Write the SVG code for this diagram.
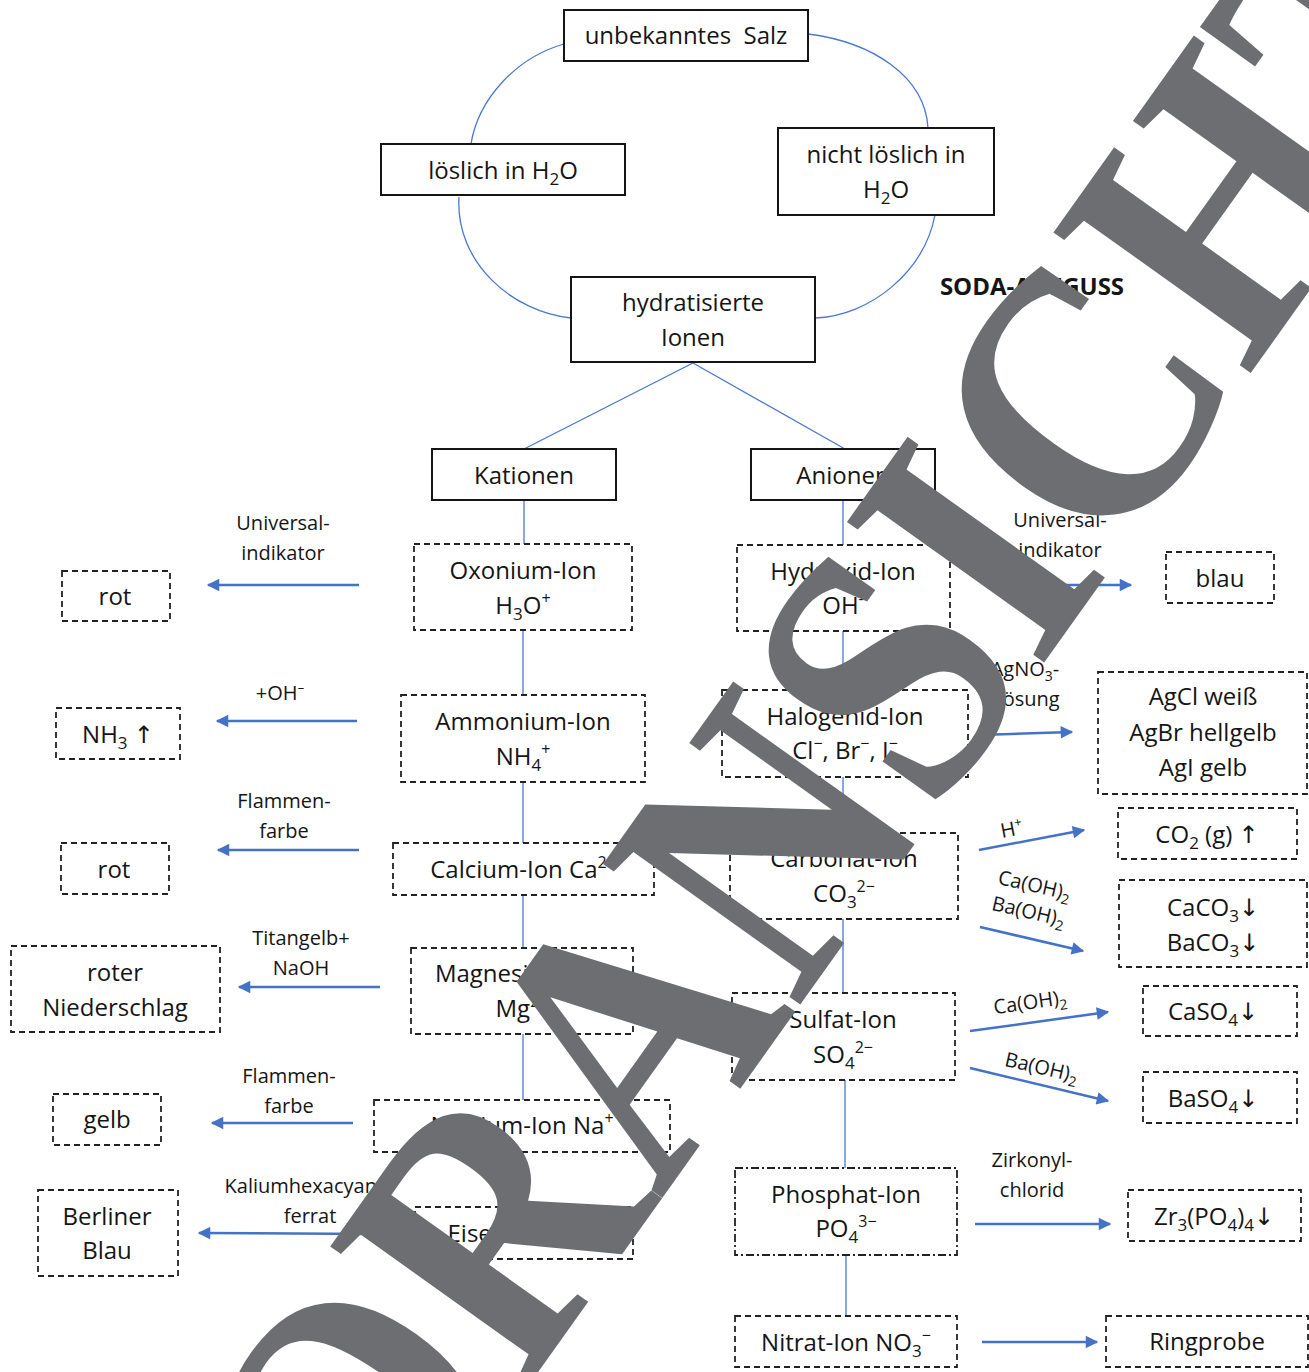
<svg xmlns="http://www.w3.org/2000/svg" width="1309" height="1372" viewBox="0 0 1309 1372">
<defs>
<marker id="ah" viewBox="0 0 10 10" refX="9" refY="5" markerWidth="6" markerHeight="5" orient="auto" markerUnits="strokeWidth"><path d="M0,0 L10,5 L0,10 z" fill="#4472c4"/></marker>
</defs>
<style>
text{font-family:"Open Sans","Noto Sans","DejaVu Sans",sans-serif;fill:#151515;text-anchor:middle}
.t{font-size:24px}
.l{font-size:20px}
.solid{fill:#fff;stroke:#151515;stroke-width:2}
.dash{fill:#fff;stroke:#222;stroke-width:1.8;stroke-dasharray:6 4}
.dashdot{fill:#fff;stroke:#222;stroke-width:1.8;stroke-dasharray:8 3 2 3}
.con{fill:none;stroke:#4a78d0;stroke-width:1.3}
.arr{fill:none;stroke:#4472c4;stroke-width:2.5;marker-end:url(#ah)}
.wm{font-family:"Liberation Serif","Times New Roman",serif;font-weight:bold;font-size:370px;fill:#6d6e71;text-anchor:start}
</style>
<rect width="1309" height="1372" fill="#fff"/>

<g id="connectors">
<path class="con" d="M564,44 C515,58 478,100 471,144"/>
<path class="con" d="M808,34 C872,42 925,76 928,128"/>
<path class="con" d="M459,197 C455,262 512,312 571,318"/>
<path class="con" d="M935,215 C924,272 870,316 815,318"/>
<path class="con" d="M693,363 L524,449 M693,363 L845,449"/>
<path class="con" d="M524,500 V544 M523,630 V695 M523,782 V843 M523,895 V948 M523,1034 V1100 M523,1152 V1207"/>
<path class="con" d="M843,500 V545 M843,631 V690 M843,777 V833 M843,919 V993 M845,1080 V1168 M846,1255 V1316"/>
<line class="arr" x1="359" y1="585" x2="208" y2="585"/>
<line class="arr" x1="357" y1="721" x2="217" y2="721"/>
<line class="arr" x1="359" y1="850" x2="218" y2="850"/>
<line class="arr" x1="380" y1="987" x2="239" y2="987"/>
<line class="arr" x1="353" y1="1123" x2="212" y2="1123"/>
<line class="arr" x1="375" y1="1234" x2="199" y2="1233"/>
<line class="arr" x1="985" y1="585" x2="1131" y2="585"/>
<line class="arr" x1="980" y1="735" x2="1072" y2="732"/>
<line class="arr" x1="979" y1="850" x2="1084" y2="830"/>
<line class="arr" x1="980" y1="927" x2="1083" y2="951"/>
<line class="arr" x1="970" y1="1031" x2="1108" y2="1012"/>
<line class="arr" x1="970" y1="1068" x2="1108" y2="1101"/>
<line class="arr" x1="975" y1="1224" x2="1110" y2="1224"/>
<line class="arr" x1="982" y1="1342" x2="1097" y2="1342"/>
<text class="l" x="283" y="530">Universal-</text><text class="l" x="283" y="560">indikator</text>
<text class="l" x="280" y="700">+OH⁻</text>
<text class="l" x="284" y="808">Flammen-</text><text class="l" x="284" y="838">farbe</text>
<text class="l" x="301" y="945">Titangelb+</text><text class="l" x="301" y="975">NaOH</text>
<text class="l" x="289" y="1083">Flammen-</text><text class="l" x="289" y="1113">farbe</text>
<text class="l" x="310" y="1193">Kaliumhexacyano-</text><text class="l" x="310" y="1223">ferrat</text>
<text class="l" x="1060" y="527">Universal-</text><text class="l" x="1060" y="557">indikator</text>
<text class="l" x="1025" y="676">AgNO<tspan dy="5" font-size="14">3</tspan><tspan dy="-5">-</tspan></text><text class="l" x="1026" y="706">Lösung</text>
<text class="l" transform="translate(1013,836) rotate(-11)">H<tspan dy="-8" font-size="13">+</tspan></text>
<text class="l" transform="translate(1033,892) rotate(13)">Ca(OH)<tspan dy="5" font-size="14">2</tspan></text>
<text class="l" transform="translate(1027,918) rotate(13)">Ba(OH)<tspan dy="5" font-size="14">2</tspan></text>
<text class="l" transform="translate(1031,1009) rotate(-8)">Ca(OH)<tspan dy="5" font-size="14">2</tspan></text>
<text class="l" transform="translate(1040,1074) rotate(13)">Ba(OH)<tspan dy="5" font-size="14">2</tspan></text>
<text class="l" x="1032" y="1167">Zirkonyl-</text><text class="l" x="1032" y="1197">chlorid</text>
</g>

<g id="n-salz"><rect class="solid" x="564" y="10" width="244" height="51"/><text class="t" x="686" y="44">unbekanntes&#160; Salz</text></g>
<g id="n-loeslich"><rect class="solid" x="381" y="144" width="244" height="51"/><text class="t" x="503" y="179">löslich in H<tspan dy="6" font-size="17">2</tspan><tspan dy="-6">O</tspan></text></g>
<g id="n-nichtloeslich"><rect class="solid" x="778" y="128" width="216" height="87"/><text class="t" x="886" y="163">nicht löslich in</text><text class="t" x="886" y="198">H<tspan dy="6" font-size="17">2</tspan><tspan dy="-6">O</tspan></text></g>
<g id="n-hydrat"><rect class="solid" x="571" y="277" width="244" height="85"/><text class="t" x="693" y="311">hydratisierte</text><text class="t" x="693" y="346">Ionen</text></g>
<g id="n-soda"><text x="1032" y="295" style="font-size:24px;font-weight:bold">SODA-AUFGUSS</text></g>
<g id="n-kationen"><rect class="solid" x="432" y="449" width="184" height="51"/><text class="t" x="524" y="484">Kationen</text></g>
<g id="n-anionen"><rect class="solid" x="751" y="449" width="184" height="51"/><text class="t" x="843" y="484">Anionen</text></g>

<g id="n-oxonium"><rect class="dash" x="414" y="544" width="218" height="86"/><text class="t" x="523" y="579">Oxonium-Ion</text><text class="t" x="523" y="614">H<tspan dy="6" font-size="17">3</tspan><tspan dy="-6">O</tspan><tspan dy="-10" font-size="16">+</tspan></text></g>
<g id="n-ammonium"><rect class="dash" x="401" y="695" width="244" height="87"/><text class="t" x="523" y="730">Ammonium-Ion</text><text class="t" x="523" y="765">NH<tspan dy="6" font-size="17">4</tspan><tspan dy="-16" font-size="16">+</tspan></text></g>
<g id="n-calcium"><rect class="dash" x="393" y="843" width="261" height="52"/><text class="t" x="523" y="878">Calcium-Ion Ca<tspan dy="-10" font-size="16">2+</tspan></text></g>
<g id="n-magnesium"><rect class="dash" x="411" y="948" width="222" height="86"/><text class="t" x="522" y="982">Magnesium-Ion</text><text class="t" x="522" y="1017">Mg<tspan dy="-10" font-size="16">2+</tspan></text></g>
<g id="n-natrium"><rect class="dash" x="374" y="1100" width="296" height="52"/><text class="t" x="522" y="1134">Natrium-Ion Na<tspan dy="-10" font-size="16">+</tspan></text></g>
<g id="n-eisen"><rect class="dash" x="415" y="1207" width="218" height="52"/><text class="t" x="524" y="1242">Eisen-Ion Fe<tspan dy="-10" font-size="16">3+</tspan></text></g>

<g id="n-rot1"><rect class="dash" x="62" y="571" width="108" height="50"/><text class="t" x="115" y="605">rot</text></g>
<g id="n-nh3"><rect class="dash" x="56" y="708" width="124" height="51"/><text class="t" x="118" y="743">NH<tspan dy="6" font-size="17">3</tspan><tspan dy="-6"> ↑</tspan></text></g>
<g id="n-rot2"><rect class="dash" x="61" y="843" width="108" height="51"/><text class="t" x="114" y="878">rot</text></g>
<g id="n-roter"><rect class="dash" x="11" y="946" width="209" height="86"/><text class="t" x="115" y="981">roter</text><text class="t" x="115" y="1016">Niederschlag</text></g>
<g id="n-gelb"><rect class="dash" x="53" y="1094" width="108" height="51"/><text class="t" x="107" y="1128">gelb</text></g>
<g id="n-berliner"><rect class="dash" x="38" y="1190" width="140" height="86"/><text class="t" x="107" y="1225">Berliner</text><text class="t" x="107" y="1259">Blau</text></g>

<g id="n-hydroxid"><rect class="dash" x="737" y="545" width="213" height="86"/><text class="t" x="843" y="580">Hydroxid-Ion</text><text class="t" x="843" y="614">OH<tspan dy="-10" font-size="16">-</tspan></text></g>
<g id="n-halogenid"><rect class="dash" x="722" y="690" width="246" height="87"/><text class="t" x="845" y="725">Halogenid-Ion</text><text class="t" x="845" y="759">Cl<tspan dy="-10" font-size="16">−</tspan><tspan dy="10">, Br</tspan><tspan dy="-10" font-size="16">−</tspan><tspan dy="10">, I</tspan><tspan dy="-10" font-size="16">−</tspan></text></g>
<g id="n-carbonat"><rect class="dash" x="730" y="833" width="228" height="86"/><text class="t" x="844" y="867">Carbonat-Ion</text><text class="t" x="844" y="902">CO<tspan dy="6" font-size="17">3</tspan><tspan dy="-16" font-size="16">2−</tspan></text></g>
<g id="n-sulfat"><rect class="dash" x="732" y="993" width="223" height="87"/><text class="t" x="843" y="1028">Sulfat-Ion</text><text class="t" x="843" y="1063">SO<tspan dy="6" font-size="17">4</tspan><tspan dy="-16" font-size="16">2−</tspan></text></g>
<g id="n-phosphat"><rect class="dashdot" x="735" y="1168" width="222" height="87"/><text class="t" x="846" y="1203">Phosphat-Ion</text><text class="t" x="846" y="1237">PO<tspan dy="6" font-size="17">4</tspan><tspan dy="-16" font-size="16">3−</tspan></text></g>
<g id="n-nitrat"><rect class="dash" x="735" y="1316" width="222" height="51"/><text class="t" x="846" y="1351">Nitrat-Ion NO<tspan dy="6" font-size="17">3</tspan><tspan dy="-16" font-size="16">−</tspan></text></g>

<g id="n-blau"><rect class="dash" x="1166" y="552" width="108" height="51"/><text class="t" x="1220" y="587">blau</text></g>
<g id="n-agx"><rect class="dash" x="1098" y="672" width="209" height="122"/><text class="t" x="1203" y="705">AgCl weiß</text><text class="t" x="1203" y="741">AgBr hellgelb</text><text class="t" x="1203" y="776">AgI gelb</text></g>
<g id="n-co2"><rect class="dash" x="1118" y="808" width="179" height="51"/><text class="t" x="1207" y="843">CO<tspan dy="6" font-size="17">2</tspan><tspan dy="-6"> (g) ↑</tspan></text></g>
<g id="n-caco3"><rect class="dash" x="1119" y="880" width="188" height="87"/><text class="t" x="1213" y="916">CaCO<tspan dy="6" font-size="17">3</tspan><tspan dy="-6">↓</tspan></text><text class="t" x="1213" y="951">BaCO<tspan dy="6" font-size="17">3</tspan><tspan dy="-6">↓</tspan></text></g>
<g id="n-caso4"><rect class="dash" x="1143" y="986" width="154" height="50"/><text class="t" x="1213" y="1020">CaSO<tspan dy="6" font-size="17">4</tspan><tspan dy="-6">↓</tspan></text></g>
<g id="n-baso4"><rect class="dash" x="1143" y="1072" width="154" height="51"/><text class="t" x="1213" y="1107">BaSO<tspan dy="6" font-size="17">4</tspan><tspan dy="-6">↓</tspan></text></g>
<g id="n-zr"><rect class="dash" x="1128" y="1190" width="173" height="51"/><text class="t" x="1214" y="1225">Zr<tspan dy="6" font-size="17">3</tspan><tspan dy="-6">(PO</tspan><tspan dy="6" font-size="17">4</tspan><tspan dy="-6">)</tspan><tspan dy="6" font-size="17">4</tspan><tspan dy="-6">↓</tspan></text></g>
<g id="n-ring"><rect class="dash" x="1106" y="1316" width="202" height="51"/><text class="t" x="1207" y="1350">Ringprobe</text></g>

<g id="watermark"><text class="wm" transform="translate(245,1783) rotate(-54.5) scale(0.878,1)">VORANSICHT</text></g>
</svg>
